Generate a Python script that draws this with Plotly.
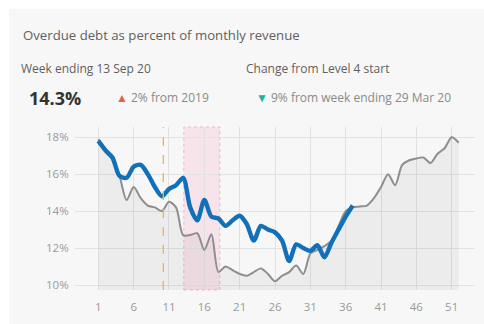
import plotly.graph_objects as go

weeks_2020 = list(range(1, 38))
debt_2020 = [17.8, 17.3, 16.9, 15.9, 15.8, 16.4, 16.5, 16.0, 15.3, 14.8,
             15.2, 15.4, 15.8, 14.2, 13.5, 14.6, 13.7, 13.6, 13.2, 13.5,
             13.75, 13.3, 12.4, 13.2, 13.0, 12.85, 12.4, 11.3, 12.2, 12.0,
             11.85, 12.15, 11.5, 12.3, 13.0, 13.7, 14.3]

weeks_2019 = list(range(1, 53))
debt_2019 = [17.9, 17.2, 16.8, 15.9, 14.6, 15.3, 14.7, 14.3, 14.2, 14.0,
             14.5, 14.2, 12.7, 12.7, 12.8, 11.9, 12.75, 10.7, 11.0, 10.8,
             10.6, 10.5, 10.7, 10.9, 10.6, 10.2, 10.5, 10.7, 11.05, 10.6,
             11.7, 11.9, 12.1, 12.4, 13.2, 14.0, 14.2, 14.25, 14.3, 14.7,
             15.3, 16.0, 15.4, 16.5, 16.75, 16.85, 16.9, 16.6, 17.1, 17.4,
             18.0, 17.7]

x_ticks = [1, 6, 11, 16, 21, 26, 31, 36, 41, 46, 51]
y_ticks = [10, 12, 14, 16, 18]
y_tick_labels = ["10%", "12%", "14%", "16%", "18%"]

level4_start, level4_end = 13.1, 18.2
marker_week = 10.2

title = "Overdue debt as percent of monthly revenue"
week_label = "Week ending 13 Sep 20"
change_label = "Change from Level 4 start"
current_value = "14.3%"
vs_2019 = "2% from 2019"
vs_level4 = "9% from week ending 29 Mar 20"

FONT = "Open Sans"
W, H = 484, 324
L, R, T, B = 75, 9, 127, 34
PW, PH = W - L - R, H - T - B


def px_x(p):
    return (p - L) / PW


def px_y(p):
    return (H - B - p) / PH


fig = go.Figure()

fig.add_trace(go.Scatter(
    x=weeks_2019, y=debt_2019, mode="lines",
    line=dict(color="#8e8e8e", width=2, shape="spline", smoothing=0.8),
    fill="tozeroy", fillcolor="rgba(0,0,0,0.045)",
    hoverinfo="skip", showlegend=False))

fig.add_trace(go.Scatter(
    x=weeks_2020, y=debt_2020, mode="lines",
    line=dict(color="#1170b8", width=4.4, shape="spline", smoothing=0.8),
    hoverinfo="skip", showlegend=False))

# card background
fig.add_shape(type="rect", xref="paper", yref="paper",
              x0=px_x(9), x1=px_x(W + 5), y0=px_y(H + 5), y1=px_y(9),
              fillcolor="#f7f7f7", line=dict(width=0), layer="below")

# Level 4 band
fig.add_shape(type="rect", xref="x", yref="paper",
              x0=level4_start, x1=level4_end, y0=0, y1=1,
              fillcolor="rgba(245,190,210,0.35)",
              line=dict(color="rgba(235,170,195,0.8)", width=1, dash="dot"),
              layer="below")

# marker line
fig.add_shape(type="line", xref="x", yref="paper",
              x0=marker_week, x1=marker_week, y0=0, y1=1,
              line=dict(color="#f7b531", width=1.3, dash="dash"))

ann = [
    dict(text=title, x=px_x(21), y=px_y(35), size=13.2, color="#5f5f5f"),
    dict(text=week_label, x=px_x(19), y=px_y(68), size=12, color="#5f5f5f"),
    dict(text=change_label, x=px_x(244), y=px_y(68), size=12, color="#5f5f5f"),
    dict(text="<b>" + current_value + "</b>", x=px_x(27), y=px_y(98), size=18, color="#333333"),
    dict(text="<span style='color:#e8604c;font-size:12px'>▲</span> " + vs_2019,
         x=px_x(114), y=px_y(98), size=12, color="#8a8a8a"),
    dict(text="<span style='color:#20b39c;font-size:12px'>▼</span> " + vs_level4,
         x=px_x(254), y=px_y(98), size=12, color="#8a8a8a"),
]
for a in ann:
    fig.add_annotation(text=a["text"], x=a["x"], y=a["y"], xref="paper", yref="paper",
                       xanchor="left", yanchor="middle", showarrow=False,
                       font=dict(family=FONT, size=a["size"], color=a["color"]))

fig.update_layout(
    width=W, height=H,
    margin=dict(l=L, r=R, t=T, b=B),
    paper_bgcolor="white", plot_bgcolor="rgba(0,0,0,0)",
    font=dict(family=FONT, color="#9a9a9a", size=11),
    xaxis=dict(range=[-2.3, 54.3], tickvals=x_ticks, showgrid=True,
               gridcolor="#e2e2e2", gridwidth=1, zeroline=False,
               ticks="outside", ticklen=6, tickcolor="rgba(0,0,0,0)",
               tickfont=dict(family=FONT, size=11.5, color="#9a9a9a"), fixedrange=True),
    yaxis=dict(range=[9.73, 18.55], tickvals=y_ticks, ticktext=y_tick_labels,
               showgrid=True, gridcolor="#e2e2e2", gridwidth=1, zeroline=False,
               ticks="outside", ticklen=3, tickcolor="rgba(0,0,0,0)",
               tickfont=dict(family=FONT, size=11.5, color="#9a9a9a"), fixedrange=True),
)

fig.write_html("out.html")
